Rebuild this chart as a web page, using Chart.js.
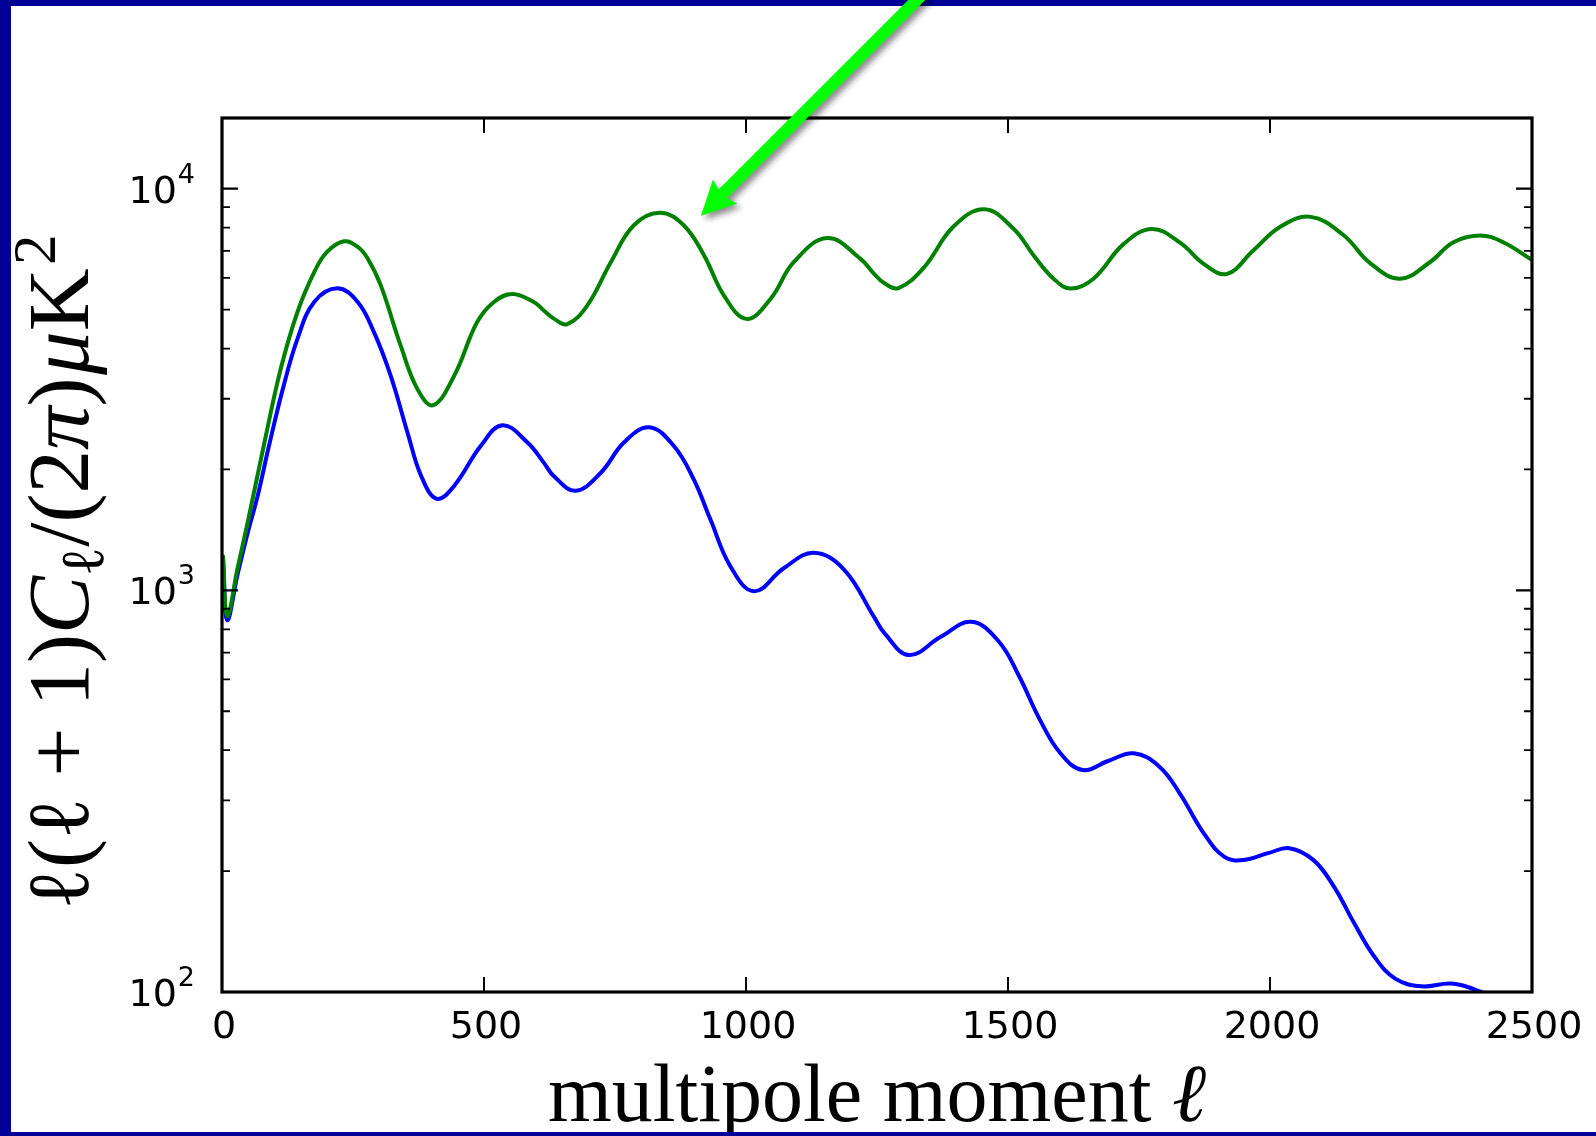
<!DOCTYPE html>
<html><head><meta charset="utf-8">
<script src="https://cdn.jsdelivr.net/npm/chart.js@4/dist/chart.umd.min.js"></script>
<style>html,body{margin:0;padding:0;background:#fff;overflow:hidden}canvas{display:block}</style>
</head><body>
<canvas id="c" width="1596" height="1136"></canvas>
<script>
// ---- data ----
const ellGreen = [2,10,30,49,81,112,144,176,200,233,260,278,303,341,373,403,443,487,519,554,595,614,634,659,697,742,786,836,881,920,958,1001,1047,1091,1155,1218,1244,1263,1291,1339,1396,1455,1511,1549,1587,1620,1663,1721,1775,1829,1874,1918,1968,2019,2078,2140,2191,2248,2305,2350,2401,2445,2500];
const clGreen  = [1216,863,1140,1476,2334,3556,4932,6200,6950,7396,7150,6700,5745,4066,3170,2891,3421,4656,5224,5470,5224,4977,4742,4603,5117,6561,8110,8710,8110,6823,5420,4742,5320,6561,7535,6700,6150,5830,5660,6350,8050,8890,7940,6823,5970,5640,5970,7290,7940,7330,6490,6140,7015,8030,8510,7670,6530,5970,6560,7360,7650,7360,6650];
const ellBlue  = [2,10,30,49,68,90,116,144,176,220,259,290,322,354,380,410,443,494,535,583,614,634,675,723,767,815,862,900,932,970,1015,1072,1129,1187,1244,1265,1311,1371,1430,1482,1521,1561,1600,1642,1691,1740,1789,1828,1874,1913,1949,1998,2037,2083,2122,2161,2200,2239,2289,2347,2399,2450,2500];
const clBlue   = [1180,843,1100,1390,1718,2300,3170,4227,5224,5650,5224,4395,3421,2471,1928,1690,1820,2291,2577,2334,2080,1920,1770,1963,2334,2546,2291,1892,1503,1149,995,1135,1241,1127,860,780,690,765,835,747,612,476,393,357,376,393,364,312,248,217,213,222,228,213,183,148,122,108,103.3,105,100.5,93,85];

const xTicks = [0,500,1000,1500,2000,2500];
const xTickLabels = ['0','500','1000','1500','2000','2500'];
const yMajorTicks = [100,1000,10000];
const yTickBase = ['10','10','10'];
const yTickExp = ['2','3','4'];
const yMinorTicks = [200,300,400,500,600,700,800,900,2000,3000,4000,5000,6000,7000,8000,9000];
const xTitleParts = ['multipole moment ', 'ℓ'];
const yTitleParts = ['ℓ','(','ℓ','+','1',')','C','ℓ','/','(','2','π',')','μ','K','2'];
const arrowTail = [1339, 30700];
const arrowTip = [914, 8570];

// ---- drawing helpers ----
const SERIF = '"Liberation Serif", "DejaVu Serif", serif';
const SANS = '"DejaVu Sans", sans-serif';

const decor = {
  id: 'decor',
  beforeDraw(chart) {
    const ctx = chart.ctx;
    ctx.save();
    ctx.fillStyle = '#ffffff';
    ctx.fillRect(0, 0, chart.width, chart.height);
    ctx.restore();
  },
  afterDraw(chart) {
    const ctx = chart.ctx;
    const xs = chart.scales.x, ys = chart.scales.y;
    const a = chart.chartArea;
    ctx.save();
    // frame
    ctx.strokeStyle = '#000';
    ctx.lineWidth = 3.2;
    ctx.lineJoin = 'miter';
    ctx.strokeRect(a.left, a.top, a.right - a.left, a.bottom - a.top);
    // x ticks
    ctx.lineWidth = 2;
    xTicks.forEach(v => {
      const px = Math.round(xs.getPixelForValue(v));
      ctx.beginPath();
      ctx.moveTo(px, a.bottom); ctx.lineTo(px, a.bottom - 15);
      ctx.moveTo(px, a.top); ctx.lineTo(px, a.top + 15);
      ctx.stroke();
    });
    // y major ticks
    ctx.lineWidth = 2.2;
    yMajorTicks.forEach(v => {
      const py = ys.getPixelForValue(v);
      ctx.beginPath();
      ctx.moveTo(a.left, py); ctx.lineTo(a.left + 16, py);
      ctx.moveTo(a.right, py); ctx.lineTo(a.right - 16, py);
      ctx.stroke();
    });
    ctx.lineWidth = 1.8;
    yMinorTicks.forEach(v => {
      const py = ys.getPixelForValue(v);
      ctx.beginPath();
      ctx.moveTo(a.left, py); ctx.lineTo(a.left + 8, py);
      ctx.moveTo(a.right, py); ctx.lineTo(a.right - 8, py);
      ctx.stroke();
    });
    // x tick labels
    ctx.fillStyle = '#000';
    ctx.font = '38px ' + SANS;
    ctx.textAlign = 'center';
    ctx.textBaseline = 'alphabetic';
    xTicks.forEach((v, i) => {
      ctx.fillText(xTickLabels[i], xs.getPixelForValue(v) + 2, a.bottom + 46);
    });
    // y tick labels (base + superscript exponent)
    yMajorTicks.forEach((v, i) => {
      const py = ys.getPixelForValue(v);
      const rightEdge = a.left - 27;
      ctx.textAlign = 'right';
      ctx.font = '27px ' + SANS;
      const ew = ctx.measureText(yTickExp[i]).width;
      ctx.fillText(yTickExp[i], rightEdge, py - 6);
      ctx.font = '38px ' + SANS;
      ctx.fillText(yTickBase[i], rightEdge - ew - 1, py + 14);
    });
    // x title
    {
      ctx.textAlign = 'left';
      const f1 = '82px ' + SERIF, f2 = 'italic 82px ' + SERIF;
      ctx.font = f1; const w1 = ctx.measureText(xTitleParts[0]).width;
      ctx.font = f2; const w2 = ctx.measureText(xTitleParts[1]).width;
      const cx = (a.left + a.right) / 2;
      let x0 = cx - (w1 + w2) / 2;
      const base = 1121;
      ctx.font = f1; ctx.fillText(xTitleParts[0], x0, base);
      ctx.font = f2; ctx.fillText(xTitleParts[1], x0 + w1, base);
    }
    // y title (rotated, mixed styles)
    {
      const S = 87;
      const kinds = ['m','r','m','b','r','r','i','sub','r','r','r','i','r','i','r','sup'];
      const fontFor = k => {
        if (k === 'sub' || k === 'sup') return Math.round(S * 0.7) + 'px ' + SERIF;
        if (k === 'i') return 'italic ' + S + 'px ' + SERIF;
        return S + 'px ' + SERIF;
      };
      const items = yTitleParts.map((t, i) => {
        const k = kinds[i];
        ctx.font = fontFor(k);
        let w = ctx.measureText(t).width;
        let pre = 0, post = 0;
        if (k === 'b') { pre = S * 0.24; post = S * 0.24; }
        if (k === 'sup') pre = S * 0.04;
        if (k === 'i' && t === 'μ') pre = S * 0.03;
        return {t, k, w, pre, post};
      });
      const total = items.reduce((s, it) => s + it.pre + it.w + it.post, 0);
      ctx.save();
      ctx.translate(88, 572);
      ctx.rotate(-Math.PI / 2);
      ctx.textAlign = 'left';
      let x = -total / 2;
      items.forEach(it => {
        x += it.pre;
        ctx.font = fontFor(it.k);
        let dy = 0;
        if (it.k === 'sub') dy = S * 0.17;
        if (it.k === 'sup') dy = -S * 0.38;
        ctx.fillText(it.t, x, dy);
        x += it.w + it.post;
      });
      ctx.restore();
    }
    // navy border
    ctx.fillStyle = '#000099';
    ctx.fillRect(0, 0, chart.width, 6);
    ctx.fillRect(0, 0, 11, chart.height);
    ctx.fillRect(0, chart.height - 4, chart.width, 4);
    // green arrow
    {
      const sx = xs.getPixelForValue(arrowTail[0]), sy = ys.getPixelForValue(arrowTail[1]);
      const tx = xs.getPixelForValue(arrowTip[0]), ty = ys.getPixelForValue(arrowTip[1]);
      const ang = Math.atan2(ty - sy, tx - sx);
      const L = Math.hypot(tx - sx, ty - sy);
      const w = 6, hl = 34, hw = 17, notch = 3;
      ctx.save();
      ctx.translate(sx, sy);
      ctx.rotate(ang);
      ctx.shadowColor = 'rgba(0,0,0,0.45)';
      ctx.shadowBlur = 6;
      ctx.shadowOffsetX = 4;
      ctx.shadowOffsetY = 4;
      ctx.beginPath();
      ctx.moveTo(0, -w);
      ctx.lineTo(L - hl + notch, -w);
      ctx.lineTo(L - hl, -hw);
      ctx.lineTo(L, 0);
      ctx.lineTo(L - hl, hw);
      ctx.lineTo(L - hl + notch, w);
      ctx.lineTo(0, w);
      ctx.closePath();
      ctx.fillStyle = '#00ff00';
      ctx.fill();
      ctx.restore();
    }
    ctx.restore();
  }
};

const mk = (ells, vals) => ells.map((l, i) => ({x: l, y: vals[i]}));

new Chart(document.getElementById('c').getContext('2d'), {
  type: 'line',
  data: {
    datasets: [
      {label: 'green', data: mk(ellGreen, clGreen), borderColor: '#008000', borderWidth: 4, pointRadius: 0, tension: 0.4, fill: false, borderJoinStyle: 'round', borderCapStyle: 'round'},
      {label: 'blue', data: mk(ellBlue, clBlue), borderColor: '#0000ff', borderWidth: 4, pointRadius: 0, tension: 0.4, fill: false, borderJoinStyle: 'round', borderCapStyle: 'round'}
    ]
  },
  options: {
    responsive: false,
    animation: false,
    devicePixelRatio: 1,
    events: [],
    layout: {padding: {left: 222, top: 118, right: 64, bottom: 144}},
    plugins: {legend: {display: false}, tooltip: {enabled: false}, title: {display: false}},
    scales: {
      x: {type: 'linear', min: 0, max: 2500, display: false},
      y: {type: 'logarithmic', min: 100, max: 15000, display: false}
    }
  },
  plugins: [decor]
});
</script>
</body></html>
